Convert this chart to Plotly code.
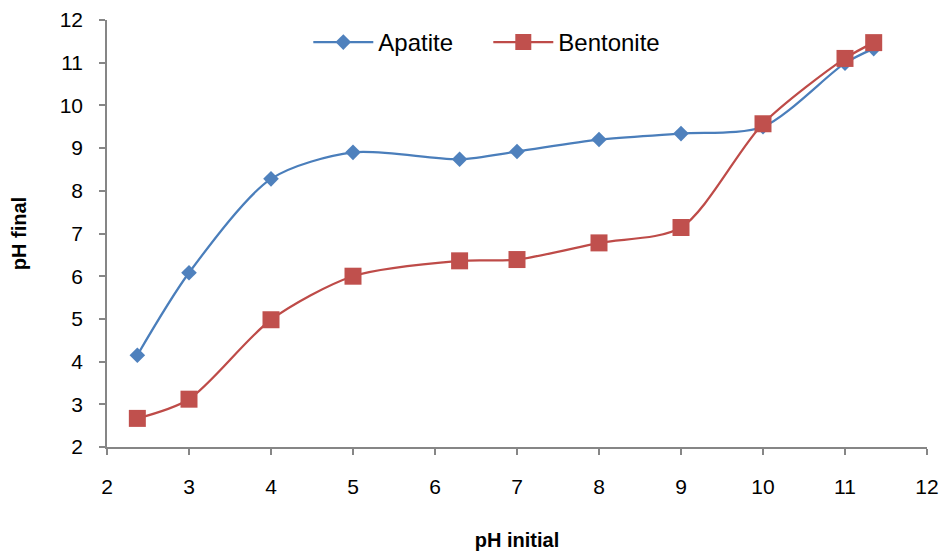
import plotly.graph_objects as go

ph_initial = [2.37, 3, 4, 5, 6.3, 7, 8, 9, 10, 11, 11.35]
apatite = [4.15, 6.08, 8.28, 8.9, 8.74, 8.92, 9.2, 9.34, 9.5, 10.99, 11.33]
bentonite = [2.67, 3.12, 4.98, 6.0, 6.36, 6.39, 6.78, 7.14, 9.57, 11.1, 11.47]

fig = go.Figure()
fig.add_trace(go.Scatter(
    x=ph_initial, y=apatite, name="Apatite", mode="lines+markers",
    line=dict(color="#4A7EBB", width=2.25, shape="spline", smoothing=0.8),
    marker=dict(symbol="diamond", size=12, color="#4F81BD"),
))
fig.add_trace(go.Scatter(
    x=ph_initial, y=bentonite, name="Bentonite", mode="lines+markers",
    line=dict(color="#BE4B48", width=2.25, shape="spline", smoothing=0.8),
    marker=dict(symbol="square", size=17, color="#C0504D"),
))

axis_common = dict(
    showline=True, linecolor="#868686", linewidth=1.5,
    ticks="outside", tickcolor="#868686", ticklen=6, tickwidth=1.5,
    showgrid=False, zeroline=False,
    tickfont=dict(family="Liberation Sans", size=21, color="black"),
    mirror=False, automargin=False,
)
fig.update_xaxes(range=[2, 12], dtick=1, tick0=2, ticklabelstandoff=14,
                 title=dict(text="<b>pH initial</b>", font=dict(family="Liberation Sans", size=20, color="black"), standoff=38),
                 **axis_common)
fig.update_yaxes(range=[2, 12], dtick=1, tick0=2, ticklabelstandoff=12,
                 title=dict(text="<b>pH final</b>", font=dict(family="Liberation Sans", size=20, color="black"), standoff=28),
                 **axis_common)

fig.update_layout(
    width=945, height=551,
    margin=dict(l=107, r=18, t=20, b=104),
    paper_bgcolor="white", plot_bgcolor="white",
    showlegend=True,
    legend=dict(orientation="h", x=0.465, xanchor="center", y=1.0, yanchor="top",
                font=dict(family="Liberation Sans", size=24, color="black"),
                bgcolor="rgba(0,0,0,0)", itemwidth=60, entrywidthmode="pixels", entrywidth=105),
)

fig.write_html("out.html")
